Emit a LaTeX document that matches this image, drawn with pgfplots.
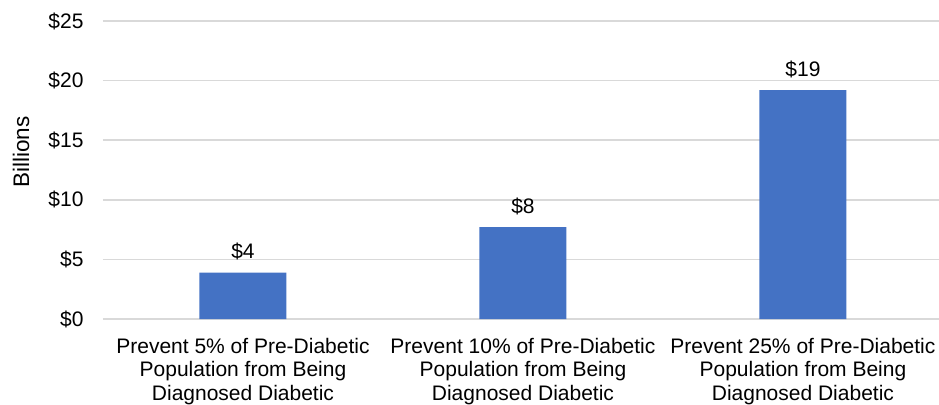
\documentclass[border=0pt]{standalone}
\usepackage{fontspec}
\setmainfont{Liberation Sans}
\usepackage{pgfplots}
\pgfplotsset{compat=1.18}
\definecolor{barblue}{HTML}{4472C4}
\definecolor{gridgray}{HTML}{D9D9D9}
\newcommand{\chartfont}{\fontsize{21}{23.7}\selectfont}
\begin{document}
\begin{tikzpicture}
\begin{axis}[
  scale only axis,
  width=836pt, height=298pt,
  xmin=-0.5, xmax=2.486,
  ymin=0, ymax=25,
  ytick={0,5,...,25},
  xtick={0,1,2},
  xticklabels={
    {Prevent 5\% of Pre-Diabetic\\Population from Being\\Diagnosed Diabetic},
    {Prevent 10\% of Pre-Diabetic\\Population from Being\\Diagnosed Diabetic},
    {Prevent 25\% of Pre-Diabetic\\Population from Being\\Diagnosed Diabetic}},
  /pgf/number format/assume math mode=true,
  yticklabel={\$\pgfmathprintnumber{\tick}},
  axis line style={draw=none},
  tick style={draw=none},
  ymajorgrids,
  major grid style={gridgray, line width=1.5pt},
  yticklabel style={font=\chartfont, xshift=-16pt},
  xticklabel style={font=\chartfont, align=center, yshift=-11pt},
  ylabel={Billions},
  every axis y label/.style={at={(axis description cs:-0.098,0.56)}, rotate=90, anchor=center, font=\fontsize{22.5}{26}\selectfont},
  ybar, bar width=87pt,
  nodes near coords={\$\pgfmathprintnumber[fixed,precision=0]{\pgfplotspointmeta}},
  nodes near coords style={font=\chartfont, anchor=south, yshift=9pt},
]
\addplot[fill=barblue, draw=none] coordinates {(0,3.9) (1,7.7) (2,19.2)};
\coordinate (plotorigin) at (rel axis cs:0,0);
\end{axis}
\pgfresetboundingbox
\path[use as bounding box] (plotorigin) ++(-103pt,-85pt) rectangle ++(939pt,404pt);
\end{tikzpicture}
\end{document}
